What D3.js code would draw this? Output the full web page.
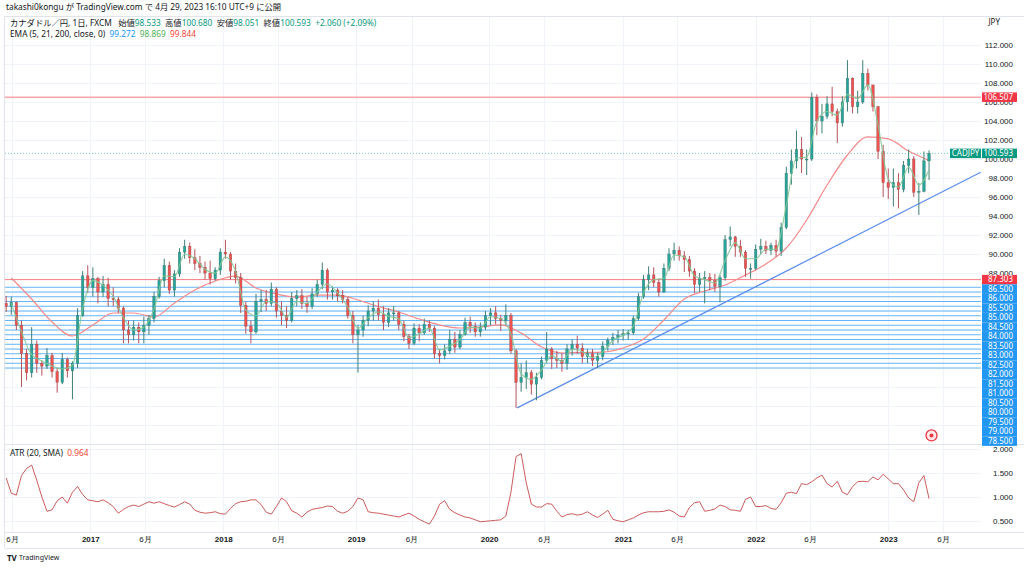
<!DOCTYPE html>
<html><head><meta charset="utf-8">
<script src="https://cdn.jsdelivr.net/npm/d3@7"></script>
<style>
body{margin:0;background:#fff;}
svg{display:block;font-family:"Noto Sans","Noto Sans CJK JP",sans-serif;}
</style></head>
<body><svg id="c" width="1024" height="568"></svg>
<script>
// ---------- DATA ----------
const periodStart = "2016-05-09";   // each candle = 2 weeks
const periodDays = 14;
const opens = [84.8,84.5,84.9,82.5,79.5,77.5,80.5,78.5,78.2,79.3,77.6,76.5,78.9,77.7,78.5,83.5,87.7,86.5,87.4,86.0,
86.8,85.3,85.2,84.3,82.0,81.5,82.3,81.8,82.5,83.2,85.5,87.2,88.8,86.2,87.9,90.2,90.8,89.6,89.0,88.6,
88.0,87.4,88.3,90.2,90.0,88.2,87.5,84.6,82.4,81.8,85.0,85.2,84.8,86.3,84.0,83.5,83.0,85.3,85.6,84.8,
84.5,85.8,86.8,88.3,86.0,86.2,85.6,85.2,83.5,81.5,82.0,83.0,84.0,84.3,83.6,82.8,83.8,83.8,82.6,81.3,
80.6,82.2,81.7,82.6,82.2,79.5,79.3,79.8,81.0,80.2,81.5,82.8,82.4,81.8,82.3,83.5,83.8,83.2,83.0,83.5,
79.8,76.5,77.0,77.5,76.3,77.0,78.8,80.0,79.0,78.8,78.5,80.0,80.5,80.1,79.2,79.5,78.8,79.2,80.3,80.9,
81.2,81.4,81.6,81.7,83.2,85.5,87.3,87.8,87.0,86.0,88.5,90.0,90.4,89.8,89.4,88.2,86.8,87.4,87.5,87.2,
86.6,87.5,91.5,91.8,90.8,90.2,88.5,88.5,90.5,90.8,90.4,90.9,90.3,92.8,98.5,99.8,101.0,100.0,100.0,106.5,
104.0,104.5,105.8,105.0,103.8,106.0,108.5,105.5,106.0,109.0,107.8,105.5,100.8,97.5,97.0,97.5,96.8,99.3,100.0,96.5,
96.6,99.8];
const highs = [85.6,85.5,85.0,83.0,80.0,82.3,80.9,78.8,80.1,79.6,78.0,79.6,79.1,78.7,84.3,88.2,88.8,88.6,87.6,87.7,
87.5,86.5,85.5,84.5,83.0,83.0,82.8,83.4,83.6,86.0,87.6,89.5,89.2,88.3,90.6,91.5,91.2,90.5,89.8,89.2,
89.3,88.6,90.6,91.5,90.2,89.0,88.0,85.0,83.0,85.8,86.2,86.2,87.0,86.5,85.0,84.5,86.0,86.2,86.3,85.5,
86.4,87.3,89.1,88.5,86.6,86.4,86.2,85.5,84.0,82.5,83.5,84.6,85.0,85.2,84.5,84.3,84.5,84.0,83.0,81.6,
82.7,82.6,83.2,83.0,82.4,80.0,80.5,82.0,81.8,82.0,83.3,83.4,82.8,82.8,84.0,84.3,84.5,83.6,84.7,83.8,
80.0,78.5,78.8,77.8,77.5,79.2,81.8,80.2,79.8,79.6,80.5,81.0,81.4,80.6,80.0,80.0,79.6,80.8,81.2,81.7,
82.0,82.1,82.0,83.5,85.9,87.8,88.7,88.6,87.4,89.0,90.6,91.2,90.8,90.3,89.8,88.5,88.0,88.2,88.0,87.9,
87.8,92.0,92.9,91.9,91.5,90.4,89.0,91.0,91.6,91.4,91.2,91.5,93.3,99.2,101.0,103.0,102.3,101.0,107.0,106.8,
105.8,106.6,107.6,105.3,106.6,110.4,108.6,107.2,110.4,109.5,107.8,105.6,101.5,99.0,99.0,98.5,99.8,101.0,100.3,97.5,
100.8,100.9];
const lows = [83.9,83.6,82.0,76.0,76.7,77.0,77.5,77.2,77.9,77.0,75.4,76.3,77.0,74.7,78.0,83.4,85.9,85.5,84.8,85.5,
84.5,84.5,83.8,80.6,80.6,80.9,80.6,80.6,81.5,82.8,85.3,86.5,85.8,85.5,87.6,89.5,89.0,88.3,88.0,87.3,
86.8,87.2,87.8,89.5,87.3,86.9,83.8,81.6,80.6,81.6,83.9,84.0,84.5,83.3,82.5,82.2,82.8,84.5,84.2,83.8,
84.2,85.5,86.3,85.2,85.2,85.0,84.8,83.2,80.6,77.5,81.3,82.4,83.0,83.0,82.0,82.3,83.0,82.0,80.8,80.0,
80.4,80.8,81.5,81.8,79.0,78.5,78.9,79.5,79.6,80.0,81.4,81.7,81.3,81.3,82.0,82.5,82.6,81.9,82.5,79.5,
73.8,75.5,75.8,75.2,74.6,76.8,78.5,77.9,78.0,77.6,77.8,79.3,79.5,78.5,78.5,78.2,78.0,78.8,79.8,80.4,
80.6,80.9,81.0,81.5,83.0,85.3,86.2,86.5,85.5,85.9,88.2,89.3,89.3,88.1,87.6,85.9,86.0,84.8,86.2,86.0,
84.9,87.2,90.8,89.7,89.7,87.6,87.4,88.3,90.0,90.0,89.9,89.7,89.8,92.6,97.3,99.0,98.5,98.3,99.8,102.5,
102.7,104.2,104.5,101.7,103.4,105.0,104.8,104.8,105.8,107.2,105.0,100.0,96.0,95.8,95.0,94.8,96.5,98.5,96.0,94.1,
96.5,97.8];
const closes = [84.5,84.9,82.5,79.5,77.5,80.5,78.5,78.2,79.3,77.6,76.5,78.9,77.7,78.5,83.5,87.7,86.5,87.4,86.0,86.8,
85.3,85.2,84.3,82.0,81.5,82.3,81.8,82.5,83.2,85.5,87.2,88.8,86.2,87.9,90.2,90.8,89.6,89.0,88.6,88.0,
87.4,88.3,90.2,90.0,88.2,87.5,84.6,82.4,81.8,85.0,85.2,84.8,86.3,84.0,83.5,83.0,85.3,85.6,84.8,84.5,
85.8,86.8,88.3,86.0,86.2,85.6,85.2,83.5,81.5,82.0,83.0,84.0,84.3,83.6,82.8,83.8,83.8,82.6,81.3,80.6,
82.2,81.7,82.6,82.2,79.5,79.3,79.8,81.0,80.2,81.5,82.8,82.4,81.8,82.3,83.5,83.8,83.2,83.0,83.5,79.8,
76.5,77.0,77.5,76.3,77.0,78.8,80.0,79.0,78.8,78.5,80.0,80.5,80.1,79.2,79.5,78.8,79.2,80.3,80.9,81.2,
81.4,81.6,81.7,83.2,85.5,87.3,87.8,87.0,86.0,88.5,90.0,90.4,89.8,89.4,88.2,86.8,87.4,87.5,87.2,86.6,
87.5,91.5,91.8,90.8,90.2,88.5,88.5,90.5,90.8,90.4,90.9,90.3,92.8,98.5,99.8,101.0,100.0,100.0,106.5,104.0,
104.5,105.8,105.0,103.8,106.0,108.5,105.5,106.0,109.0,107.8,105.5,100.8,97.5,97.0,97.5,96.8,99.3,100.0,96.5,96.6,
99.8,100.593];
// EMA 21 read at every 2nd candle (candles 1,3,5,...)
const ema21 = [84.8,81.8,79.4,78.75,78.2,77.9,78.3,84.3,87.2,86.7,85.55,83.3,82.0,82.3,84.2,87.7,87.6,90.0,89.5,88.4,
88.0,89.7,88.2,84.1,83.5,85.0,84.85,83.35,85.0,84.8,86.0,86.85,85.9,84.4,82.15,83.3,83.9,83.45,83.2,81.2,
81.6,82.2,79.9,80.3,81.0,82.3,82.2,83.4,83.2,81.55,77.4,76.8,77.8,79.3,78.7,80.0,79.7,79.1,79.7,80.9,
81.45,82.4,85.9,87.3,87.45,89.9,89.7,87.7,87.3,86.95,89.3,91.2,89.5,89.5,90.5,90.5,95.1,100.1,100.2,104.0,
105.0,104.6,106.8,106.35,107.8,103.6,97.9,97.05,99.15,97.25,98.869];
// EMA 200 read at every 4th candle (candles 1,5,9,...)
const ema200 = [87.47,85.26,82.84,81.37,82.53,83.79,83.79,83.37,84.84,86.21,87.16,87.68,86.42,85.79,85.47,85.68,85.68,85.16,84.47,83.89,
83.16,82.53,82.21,82.32,82.53,81.68,80.21,79.58,79.63,79.68,80.11,81.05,83.05,85.26,86.11,86.74,87.79,88.95,90.63,93.58,
97.26,100.42,102.32,102.11,100.84,99.844];
// ATR (20, SMA), one per candle
const atr = [1.40,1.08,1.04,1.45,1.60,1.67,1.35,1.00,0.70,0.73,0.92,1.00,0.87,1.10,1.22,1.05,0.94,0.92,0.90,0.94,
0.88,0.80,0.66,0.74,0.80,0.83,0.80,0.85,0.90,0.87,0.90,0.86,0.82,0.79,0.84,0.90,0.85,0.72,0.68,0.66,
0.67,0.69,0.65,0.64,0.76,0.86,0.90,0.91,0.94,0.94,0.84,0.68,0.64,0.80,0.98,0.90,0.71,0.66,0.58,0.68,
0.74,0.76,0.78,0.81,0.80,0.70,0.66,0.70,0.80,0.98,0.94,0.69,0.67,0.66,0.64,0.62,0.60,0.58,0.62,0.66,
0.60,0.53,0.48,0.43,0.60,0.85,0.92,0.74,0.67,0.62,0.58,0.56,0.52,0.48,0.49,0.50,0.51,0.52,0.60,1.10,
1.85,1.91,1.30,0.85,0.79,0.79,0.86,0.85,0.70,0.58,0.63,0.65,0.62,0.64,0.69,0.62,0.57,0.64,0.72,0.53,
0.50,0.48,0.52,0.56,0.62,0.67,0.69,0.69,0.69,0.70,0.73,0.68,0.60,0.58,0.78,0.88,0.90,0.70,0.72,0.75,
0.83,0.80,0.73,0.72,0.70,0.95,1.00,0.80,0.80,0.82,0.76,0.74,0.88,1.08,1.10,1.07,1.28,1.26,1.32,1.40,
1.46,1.28,1.21,1.33,1.10,1.05,1.22,1.32,1.33,1.32,1.42,1.36,1.48,1.38,1.28,1.28,1.15,0.98,0.90,1.30,
1.45,0.964];
const priceTicks = [70,72,74,76,78,80,82,84,86,88,90,92,94,96,98,100,102,104,106,108,110,112];
const atrTicks = [0.5,1.0,1.5,2.0];
const timeTicks = ["2016-06-01","2017-01-02","2017-06-01","2018-01-02","2018-06-01","2019-01-02","2019-06-03","2020-01-02","2020-06-01","2021-01-04","2021-06-01","2022-01-03","2022-06-01","2023-01-02","2023-06-01"];
const timeTickLabels = ["6月","2017","6月","2018","6月","2019","6月","2020","6月","2021","6月","2022","6月","2023","6月"];
const redLevels = [106.507, 87.303];
const blueLevels = [86.5,86.0,85.5,85.0,84.5,84.0,83.5,83.0,82.5,82.0,81.5,81.0,80.5,80.0,79.5,79.0,78.5,78.0];
const trendDates = ["2020-03-19","2023-09-13"];
const trendPrices = [73.8, 98.6];
const lastPrice = 100.593;
const markerDate = "2023-04-28"; const markerPrice = 70.9;

// ---------- LAYOUT ----------
const svg = d3.select("#c");
const plotL = 5, plotR = 981, mainT = 16, mainB = 444, atrT = 445, atrB = 532;
const parse = d3.timeParse("%Y-%m-%d");
const x = d3.scaleTime().domain([new Date(2016,4,12,18,43), new Date(2023,8,13,15,36)]).range([plotL, plotR]);
const y = d3.scaleLinear().domain([88,112]).range([273,45]);
const ya = d3.scaleLinear().domain([1,2]).range([497,449.4]);
const start = parse(periodStart);
const slotDate = i => d3.timeHour.offset(d3.timeDay.offset(start, i*periodDays), 7*24);
const bars = closes.map((c,i)=>({d:slotDate(i),o:opens[i],h:highs[i],l:lows[i],c:c}));

const defs = svg.append("defs");
defs.append("clipPath").attr("id","mainClip").append("rect").attr("x",plotL).attr("y",mainT).attr("width",plotR-plotL).attr("height",mainB-mainT);
defs.append("clipPath").attr("id","atrClip").append("rect").attr("x",plotL).attr("y",atrT).attr("width",plotR-plotL).attr("height",atrB-atrT);

const grid = svg.append("g");
grid.selectAll(".hg").data(priceTicks).join("line")
  .attr("x1",plotL).attr("x2",plotR).attr("y1",d=>Math.round(y(d))+0.5).attr("y2",d=>Math.round(y(d))+0.5)
  .attr("stroke","#f0f3fa");
grid.selectAll(".ag").data(atrTicks).join("line")
  .attr("x1",plotL).attr("x2",plotR).attr("y1",d=>Math.round(ya(d))+0.5).attr("y2",d=>Math.round(ya(d))+0.5)
  .attr("stroke","#f0f3fa");
grid.selectAll(".vg").data(timeTicks).join("line")
  .attr("x1",d=>Math.round(x(parse(d)))+0.5).attr("x2",d=>Math.round(x(parse(d)))+0.5)
  .attr("y1",mainT).attr("y2",atrB).attr("stroke","#f0f3fa");

// borders
const bc = "#e0e3eb";
svg.append("line").attr("x1",plotL).attr("x2",1024).attr("y1",16.5).attr("y2",16.5).attr("stroke",bc);
svg.append("line").attr("x1",plotL-0.5).attr("x2",plotL-0.5).attr("y1",16).attr("y2",548).attr("stroke",bc);
svg.append("line").attr("x1",plotL).attr("x2",1024).attr("y1",mainB+0.5).attr("y2",mainB+0.5).attr("stroke",bc);
svg.append("line").attr("x1",plotL).attr("x2",1024).attr("y1",atrB+0.5).attr("y2",atrB+0.5).attr("stroke",bc);
svg.append("line").attr("x1",plotL).attr("x2",1024).attr("y1",548.5).attr("y2",548.5).attr("stroke",bc);

const main = svg.append("g").attr("clip-path","url(#mainClip)");
// horizontal levels
main.selectAll(".bl").data(blueLevels).join("line")
  .attr("x1",plotL).attr("x2",plotR).attr("y1",d=>y(d)).attr("y2",d=>y(d))
  .attr("stroke","#64b5f6").attr("stroke-width",1);
main.selectAll(".rl").data(redLevels).join("line")
  .attr("x1",plotL).attr("x2",plotR).attr("y1",d=>y(d)).attr("y2",d=>y(d))
  .attr("stroke","#f77c80").attr("stroke-width",1);
// last price dotted line
main.append("line").attr("x1",plotL).attr("x2",plotR).attr("y1",y(lastPrice)).attr("y2",y(lastPrice))
  .attr("stroke","#26a69a").attr("stroke-opacity",0.6).attr("stroke-dasharray","1,2");
// trendline
main.append("line")
  .attr("x1",x(parse(trendDates[0]))).attr("y1",y(trendPrices[0]))
  .attr("x2",x(parse(trendDates[1]))).attr("y2",y(trendPrices[1]))
  .attr("stroke","#5b8def").attr("stroke-width",1.2);

// EMA lines
const ema200Pts = ema200.map((v,k)=>[x(slotDate(1+4*k)), y(v)]);
const ema21Pts = ema21.map((v,k)=>[x(slotDate(1+2*k)), y(v)]);
const ln = d3.line().curve(d3.curveMonotoneX);
main.append("path").attr("d",ln(ema200Pts)).attr("fill","none").attr("stroke","#f48a8a").attr("stroke-width",1.2);

// candles
const up = "#26a69a", dn = "#ef5350";
const cg = main.append("g");
cg.selectAll(".wick").data(bars).join("line")
  .attr("x1",d=>x(d.d)).attr("x2",d=>x(d.d)).attr("y1",d=>y(d.h)).attr("y2",d=>y(d.l))
  .attr("stroke",d=>d.c>=d.o?"#3f7f78":"#b5525a").attr("stroke-width",1);
cg.selectAll(".body").data(bars).join("rect")
  .attr("x",d=>x(d.d)-1.25).attr("width",2.5)
  .attr("y",d=>y(Math.max(d.o,d.c))).attr("height",d=>Math.max(1,Math.abs(y(d.o)-y(d.c))))
  .attr("fill",d=>d.c>=d.o?up:dn).attr("stroke",d=>d.c>=d.o?"#3d6f6a":"#8c4b50").attr("stroke-width",0.4);
main.append("path").attr("d",ln(ema21Pts)).attr("fill","none").attr("stroke","#81c995").attr("stroke-width",1.1).attr("opacity",0.9);

// marker
const mk = svg.append("g").attr("transform",`translate(${x(parse(markerDate))+1},${y(markerPrice)})`);
mk.append("circle").attr("r",5.5).attr("fill","#fde8ea").attr("stroke","#f23645").attr("stroke-width",1.3);
mk.append("circle").attr("r",2).attr("fill","#f23645");

// ATR
const atrG = svg.append("g").attr("clip-path","url(#atrClip)");
atrG.append("path").attr("d",d3.line()(atr.map((v,i)=>[x(slotDate(i)), ya(v)])))
  .attr("fill","none").attr("stroke","#c2403f").attr("stroke-width",1).attr("opacity",0.85);

// price axis
const fs = 8;
const yAx = svg.append("g").attr("transform","translate(1013,0)")
  .call(d3.axisRight(y).tickValues(priceTicks.filter(v=>v>=88)).tickFormat(d3.format(".3f")).tickSize(0).tickPadding(0));
yAx.select(".domain").remove();
yAx.selectAll("text").attr("text-anchor","end").attr("x",0).attr("fill","#131722").attr("font-size",fs).attr("font-family",null);
const aAx = svg.append("g").attr("transform","translate(1013,0)")
  .call(d3.axisRight(ya).tickValues(atrTicks).tickFormat(d3.format(".3f")).tickSize(0).tickPadding(0));
aAx.select(".domain").remove();
aAx.selectAll("text").attr("text-anchor","end").attr("x",0).attr("fill","#131722").attr("font-size",fs).attr("font-family",null);
svg.append("text").attr("x",1000).attr("y",23).attr("text-anchor","end").attr("dominant-baseline","middle")
  .attr("font-size",fs).attr("fill","#131722").text("JPY");

// price labels (stacked like the price scale does)
const lh = 9.5;
const labels = [
  ...redLevels.map(v=>({v, fill:"#f23645"})),
  {v:lastPrice, fill:"#089981", tag:"CADJPY"},
  ...blueLevels.map(v=>({v, fill:"#2196f3"}))
].map(l=>({...l, yy:y(l.v)})).sort((a,b)=>a.yy-b.yy);
labels.forEach((l,i)=>{ if(i>0 && l.yy < labels[i-1].yy + lh) l.yy = labels[i-1].yy + lh; });
const shown = labels.filter(l=>l.yy + lh/2 <= mainB + 2.5);
const lg = svg.append("g");
shown.forEach(l=>{
  lg.append("rect").attr("x",982).attr("y",l.yy-lh/2).attr("width",35).attr("height",lh).attr("fill",l.fill);
  lg.append("text").attr("x",1013).attr("y",l.yy+0.5).attr("text-anchor","end").attr("dominant-baseline","middle")
    .attr("font-size",fs).attr("fill","#fff").text(l.v.toFixed(3));
  if(l.tag){
    lg.append("rect").attr("x",950).attr("y",l.yy-lh/2).attr("width",31).attr("height",lh).attr("fill",l.fill);
    lg.append("text").attr("x",965.5).attr("y",l.yy+0.5).attr("text-anchor","middle").attr("dominant-baseline","middle")
      .attr("font-size",fs).attr("fill","#fff").text(l.tag);
  }
});

// time axis
const xAx = svg.append("g").attr("transform",`translate(0,${atrB+4})`)
  .call(d3.axisBottom(x).tickValues(timeTicks.map(parse)).tickFormat((d,i)=>timeTickLabels[i]).tickSize(0).tickPadding(0));
xAx.select(".domain").remove();
xAx.selectAll("text").attr("font-size",fs).attr("fill","#131722").attr("font-family",null)
  .attr("font-weight",(d,i)=>timeTickLabels[i].endsWith("月")?"normal":"bold");

// header & legends
svg.append("text").attr("x",6).attr("y",8).attr("dominant-baseline","middle").attr("font-size",8.3).attr("fill","#131722")
  .text("takashi0kongu が TradingView.com で 4月 29, 2023 16:10 UTC+9 に公開");
const green = "#089981";
const l1 = svg.append("text").attr("x",10).attr("y",23.5).attr("dominant-baseline","middle").attr("font-size",8.3).attr("fill","#131722");
[["カナダドル／円, 1日, FXCM   ","#131722"],["始値","#131722"],["98.533  ",green],["高値","#131722"],["100.680  ",green],
 ["安値","#131722"],["98.051  ",green],["終値","#131722"],["100.593  ",green],["+2.060 (+2.09%)",green]]
 .forEach(([t,c])=>l1.append("tspan").attr("fill",c).text(t));
const l2 = svg.append("text").attr("x",10).attr("y",34.5).attr("dominant-baseline","middle").attr("font-size",8.3).attr("fill","#131722");
[["EMA (5, 21, 200, close, 0)  ","#131722"],["99.272  ","#2196f3"],["98.869  ","#4caf50"],["99.844","#f44336"]]
 .forEach(([t,c])=>l2.append("tspan").attr("fill",c).text(t));
const l3 = svg.append("text").attr("x",10).attr("y",453.5).attr("dominant-baseline","middle").attr("font-size",8.3).attr("fill","#131722");
[["ATR (20, SMA)  ","#131722"],["0.964","#f44336"]].forEach(([t,c])=>l3.append("tspan").attr("fill",c).text(t));
svg.selectAll("text").style("white-space","pre");

// footer logo
svg.append("text").attr("x",7).attr("y",558.5).attr("dominant-baseline","middle").attr("font-size",8).attr("font-weight","bold").attr("fill","#131722").text("TV");
svg.append("text").attr("x",19).attr("y",558.5).attr("dominant-baseline","middle").attr("font-size",7).attr("fill","#131722").text("TradingView");
</script></body></html>
